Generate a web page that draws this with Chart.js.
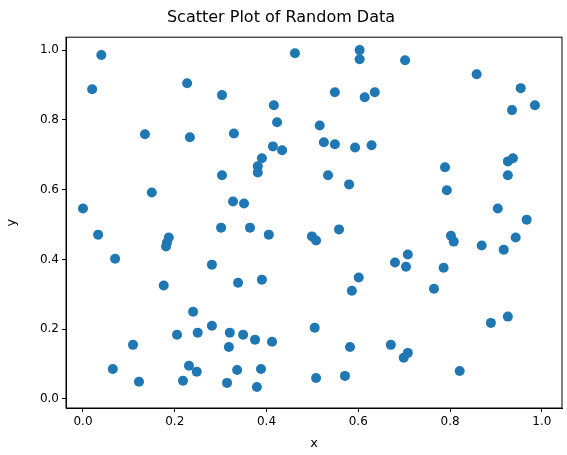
<!DOCTYPE html>
<html><head><meta charset="utf-8">
<script src="https://cdn.jsdelivr.net/npm/chart.js@4/dist/chart.umd.min.js"></script>
<style>html,body{margin:0;padding:0;background:#fff}#w{width:567px;height:455px}</style>
</head><body><div id="w"><canvas id="c"></canvas></div>
<script>
const xs=[0.0,0.02,0.04,0.033,0.07,0.065,0.109,0.122,0.135,0.15,0.176,0.181,0.183,0.187,0.205,0.218,0.227,0.233,0.231,0.24,0.248,0.25,0.281,0.281,0.303,0.303,0.301,0.314,0.318,0.32,0.327,0.329,0.336,0.338,0.349,0.351,0.364,0.375,0.379,0.381,0.381,0.388,0.39,0.39,0.405,0.412,0.414,0.416,0.423,0.434,0.462,0.499,0.508,0.505,0.508,0.516,0.525,0.534,0.549,0.549,0.558,0.571,0.58,0.582,0.586,0.593,0.603,0.603,0.601,0.614,0.629,0.636,0.671,0.68,0.702,0.699,0.704,0.708,0.708,0.765,0.786,0.789,0.793,0.802,0.808,0.821,0.858,0.869,0.889,0.904,0.917,0.926,0.926,0.926,0.935,0.937,0.943,0.954,0.967,0.985];
const ys=[0.546,0.888,0.986,0.471,0.402,0.086,0.155,0.049,0.759,0.592,0.325,0.437,0.448,0.463,0.184,0.052,0.905,0.75,0.095,0.25,0.078,0.19,0.385,0.21,0.871,0.641,0.491,0.046,0.149,0.19,0.566,0.761,0.083,0.333,0.184,0.56,0.491,0.17,0.034,0.667,0.649,0.086,0.69,0.342,0.471,0.164,0.724,0.842,0.793,0.713,0.991,0.466,0.454,0.204,0.06,0.784,0.736,0.641,0.879,0.73,0.486,0.066,0.615,0.149,0.31,0.721,1.0,0.974,0.348,0.865,0.727,0.879,0.155,0.391,0.971,0.118,0.379,0.414,0.132,0.316,0.376,0.664,0.598,0.468,0.451,0.08,0.931,0.44,0.218,0.546,0.428,0.681,0.641,0.236,0.828,0.69,0.463,0.891,0.514,0.842];
const tickVals=[0,0.2,0.4,0.6,0.8,1.0];
const pts=xs.map((x,i)=>({x,y:ys[i]}));
const F='DejaVu Sans';
const box={id:'box',afterDraw(c){const a=c.chartArea,g=c.ctx;g.save();g.strokeStyle='#000';g.lineWidth=1;g.strokeRect(a.left,a.top,a.right-a.left,a.bottom-a.top);g.restore();}};
const fixT=s=>{s.ticks=tickVals.map(v=>({value:v}));};
new Chart(document.getElementById('c'),{type:'scatter',
data:{datasets:[{data:pts,backgroundColor:'#1f77b4',borderWidth:0,pointRadius:5,pointHoverRadius:5}]},
options:{responsive:true,maintainAspectRatio:false,animation:false,
layout:{padding:{left:0,right:5,top:2,bottom:0}},
plugins:{legend:{display:false},tooltip:{enabled:false},
title:{display:true,text:'Scatter Plot of Random Data',color:'#000',font:{family:F,size:16,weight:'normal'},padding:{top:6,bottom:10}}},
scales:{
x:{min:-0.037,max:1.044,afterBuildTicks:fixT,afterFit:s=>{s.height=47;},
title:{display:true,text:'x',color:'#000',font:{family:F,size:13},padding:{top:0}},
ticks:{color:'#000',font:{family:F,size:12},callback:v=>v.toFixed(1),maxRotation:0},
grid:{drawOnChartArea:false,tickLength:4,color:'#000'},border:{color:'#000'}},
y:{min:-0.026,max:1.037,afterBuildTicks:fixT,afterFit:s=>{s.width=66;},
title:{display:true,text:'y',color:'#000',font:{family:F,size:13}},
ticks:{color:'#000',font:{family:F,size:12},callback:v=>v.toFixed(1)},
grid:{drawOnChartArea:false,tickLength:4,color:'#000'},border:{color:'#000'}}}},
plugins:[box]});
</script></body></html>
